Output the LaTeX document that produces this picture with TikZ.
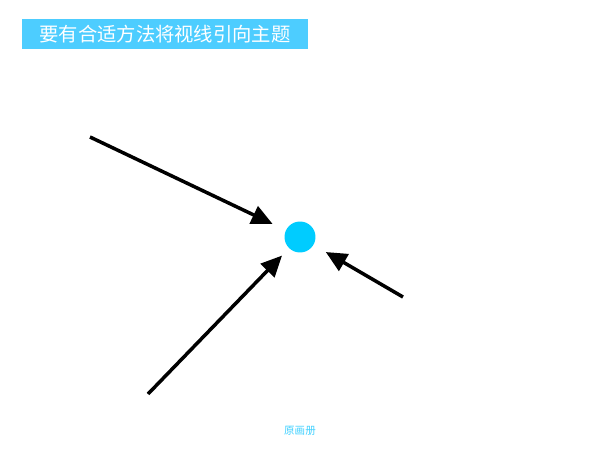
\documentclass[tikz,border=0pt]{standalone}
\usepackage{fontspec}
\usepackage{xcolor}
\usepackage{tikz}
\usetikzlibrary{arrows.meta}
\newfontfamily\cjk{Noto Sans CJK SC}
\definecolor{titleblue}{HTML}{4DCDFF}
\definecolor{dotcyan}{HTML}{00CCFF}
\definecolor{notecyan}{HTML}{3FD0FF}

\begin{document}
\begin{tikzpicture}[x=0.02cm,y=-0.02cm,
titlebox/.style={fill=titleblue,inner sep=0pt,minimum width=5.72cm,minimum height=0.6cm,text=white,font=\cjk\fontsize{11}{13}\selectfont},
subject/.style={circle,fill=dotcyan,inner sep=0pt,minimum size=0.62cm},
guide/.style={line width=2pt,-{Triangle[length=0.42cm,width=0.38cm]}}
]
\useasboundingbox (0,0) rectangle (600,450);

% The title
\node[titlebox] (title) at (165,34) {要有合适方法将视线引向主题};

% The subject
\node[subject] (dot) at (300,237) {};

% The arrows
\coordinate (upleft) at (90,137);
\coordinate (downleft) at (148,394);
\coordinate (right) at (403,297);
\draw[guide,shorten >=0.29cm] (upleft) -- (dot);
\draw[guide,shorten >=0.2cm] (downleft) -- (dot);
\draw[guide,shorten >=0.28cm] (right) -- (dot);

% The note
\node[text=notecyan,font=\cjk\fontsize{6}{7}\selectfont] (note) at (300,431) {原画册};
\end{tikzpicture}
\end{document}
